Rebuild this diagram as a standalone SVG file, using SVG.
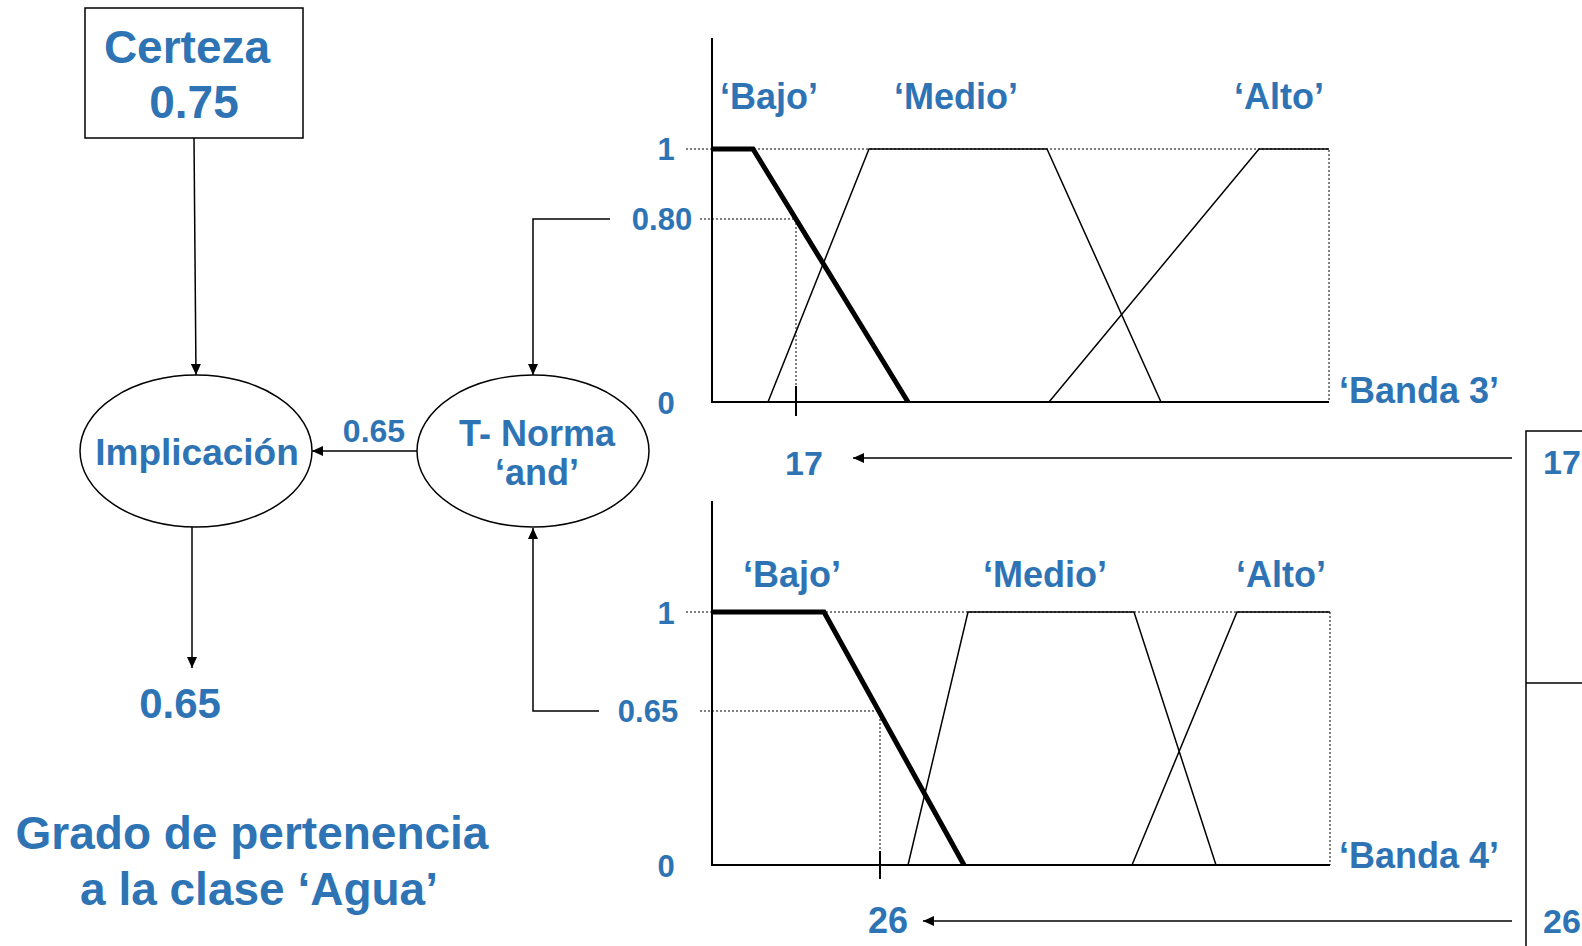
<svg xmlns="http://www.w3.org/2000/svg" width="1582" height="946" viewBox="0 0 1582 946">
<defs>
<marker id="arr" markerUnits="userSpaceOnUse" markerWidth="12" markerHeight="10" refX="11" refY="5" orient="auto">
<path d="M0,0 L11,5 L0,10 z" fill="#000"/>
</marker>
<style>
text{font-family:"Liberation Sans",Arial,sans-serif;font-weight:bold;fill:#2E74B5}
.big{font-size:46px}
.lab{font-size:36px}
.num{font-size:31px}
.node{fill:#fff;stroke:#000;stroke-width:1.5}
.con{fill:none;stroke:#000;stroke-width:1.5;marker-end:url(#arr)}
.ax{fill:none;stroke:#000;stroke-width:2}
.thin{fill:none;stroke:#000;stroke-width:1.5}
.thick{fill:none;stroke:#000;stroke-width:5;stroke-linejoin:miter}
.dot{fill:none;stroke:#000;stroke-width:1;stroke-dasharray:2,2}
</style>
</defs>
<rect width="1582" height="946" fill="#fff"/>

<g id="connectors">
<path class="con" d="M194,138 L196,375"/>
<path class="con" d="M417,451 L312,451"/>
<path class="con" d="M192,527 L192,668"/>
<path class="con" d="M610,219 H533 V375"/>
<path class="con" d="M599,711 H533 V528"/>
<path class="con" d="M1512,458 L853,458"/>
<path class="con" d="M1512,921 L923,921"/>
</g>

<g id="certeza">
<rect class="node" x="85" y="8" width="218" height="130"/>
<text class="big" x="187" y="63" text-anchor="middle">Certeza</text>
<text class="big" x="194" y="118" text-anchor="middle">0.75</text>
</g>

<g id="implicacion">
<ellipse class="node" cx="196" cy="451" rx="116" ry="76"/>
<text x="197" y="465" text-anchor="middle" style="font-size:37px">Implicación</text>
</g>

<g id="tnorma">
<ellipse class="node" cx="533" cy="451" rx="116" ry="76"/>
<text x="537" y="446" text-anchor="middle" style="font-size:36px">T- Norma</text>
<text x="537" y="485" text-anchor="middle" style="font-size:36px">‘and’</text>
</g>

<g id="edge-label">
<text x="374" y="442" text-anchor="middle" style="font-size:32px">0.65</text>
</g>

<g id="output">
<text x="180" y="718" text-anchor="middle" style="font-size:42px">0.65</text>
<text class="big" x="252" y="849" text-anchor="middle">Grado de pertenencia</text>
<text class="big" x="259" y="905" text-anchor="middle">a la clase ‘Agua’</text>
</g>

<g id="chart-banda3">
<path class="dot" d="M686,149 H1329 V402"/>
<path class="dot" d="M700,219 H796 V386"/>
<path class="ax" d="M712,38 V402 H1329"/>
<path class="ax" d="M796,386 V416"/>
<path class="thin" d="M768,402 L869,149 H1047 L1161,402"/>
<path class="thin" d="M1049,402 L1259,149 H1329"/>
<path class="thick" d="M712,149 H753 L908,402"/>
<text class="lab" x="720" y="109">‘Bajo’</text>
<text class="lab" x="894" y="109">‘Medio’</text>
<text class="lab" x="1234" y="109">‘Alto’</text>
<text class="lab" x="1339" y="403">‘Banda 3’</text>
<text class="num" x="666" y="160" text-anchor="middle">1</text>
<text class="num" x="662" y="230" text-anchor="middle">0.80</text>
<text class="num" x="666" y="414" text-anchor="middle">0</text>
<text x="804" y="475" text-anchor="middle" style="font-size:34px">17</text>
</g>

<g id="chart-banda4">
<path class="dot" d="M686,612 H1330 V865"/>
<path class="dot" d="M700,711 H880 V851"/>
<path class="ax" d="M712,501 V865 H1330"/>
<path class="ax" d="M880,851 V879"/>
<path class="thin" d="M908,865 L968,612 H1134 L1216,865"/>
<path class="thin" d="M1132,865 L1237,612 H1330"/>
<path class="thick" d="M712,612 H824 L964,865"/>
<text class="lab" x="743" y="587">‘Bajo’</text>
<text class="lab" x="983" y="587">‘Medio’</text>
<text class="lab" x="1236" y="587">‘Alto’</text>
<text class="lab" x="1339" y="868">‘Banda 4’</text>
<text class="num" x="666" y="624" text-anchor="middle">1</text>
<text class="num" x="648" y="722" text-anchor="middle">0.65</text>
<text class="num" x="666" y="877" text-anchor="middle">0</text>
<text x="888" y="933" text-anchor="middle" style="font-size:36px">26</text>
</g>

<g id="input-table">
<path class="ax" d="M1526,946 V431 H1582 M1526,683 H1582" style="stroke-width:1.5"/>
<text x="1543" y="474" style="font-size:34px">17</text>
<text x="1543" y="933" style="font-size:34px">26</text>
</g>
</svg>
